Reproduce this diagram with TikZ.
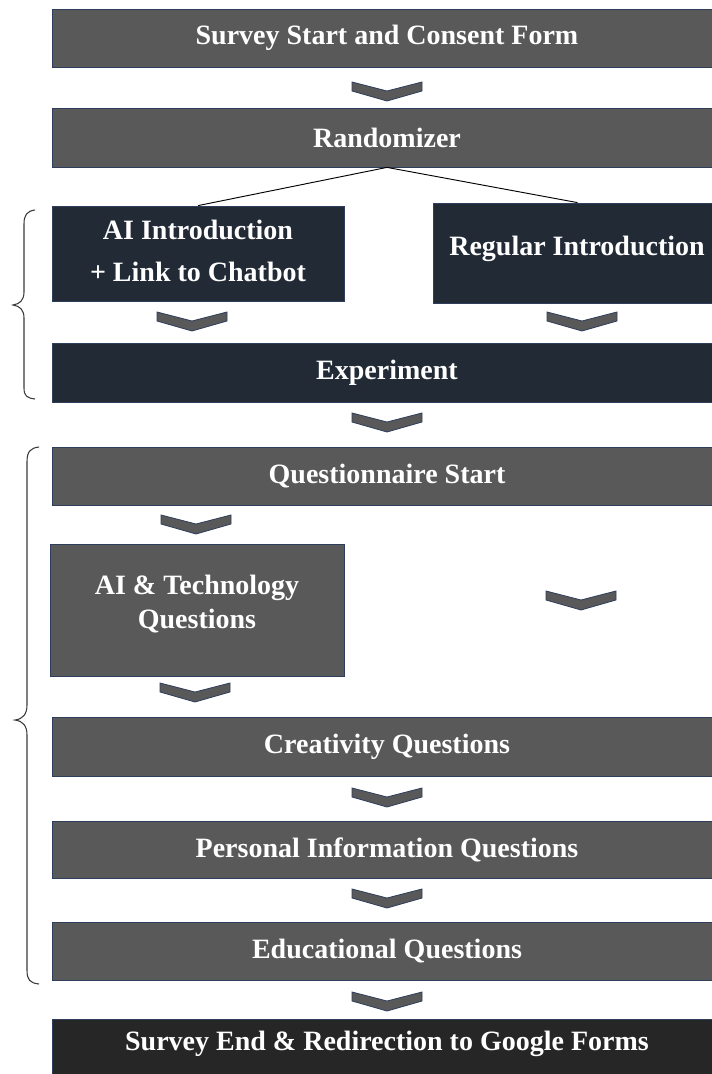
\documentclass[tikz,border=0pt]{standalone}
\usepackage{fontspec}
\setmainfont{Liberation Serif}
\definecolor{boxgray}{HTML}{595959}
\definecolor{navy}{HTML}{222A35}
\definecolor{endblack}{HTML}{262626}
\definecolor{edge}{HTML}{2F3E5C}
\definecolor{bracecol}{HTML}{3A3A3A}
\begin{document}
\begin{tikzpicture}[x=0.75pt,y=-0.75pt,
  stage/.style={draw=edge, line width=0.6pt, fill=boxgray, text=white,
    font=\bfseries\fontsize{21}{25}\selectfont, inner sep=0pt, align=center},
  darkstage/.style={stage, fill=navy},
  endstage/.style={stage, fill=endblack},
  lbl/.style={text=white, font=\bfseries\fontsize{21}{25}\selectfont, inner sep=0pt, align=center},
  chevshape/.style={draw=edge, line width=0.6pt, fill=boxgray, line join=miter},
  chev/.pic={\path[chevshape] (-35,0) -- (0,9) -- (35,0) -- (35,9) -- (0,19) -- (-35,9) -- cycle;},
  bracket/.style={draw=bracecol, line width=0.8pt},
  split/.style={draw=black, line width=0.7pt}
]
\fill[white] (0,0) rectangle (712,1074);
\useasboundingbox (0,0) rectangle (712,1074);

% stages of the survey, top to bottom
\node[stage, minimum width=502.5pt, minimum height=43.5pt] (start) at (387,38) {Survey Start and Consent Form};
\node[stage, minimum width=502.5pt, minimum height=44.25pt] (rand) at (387,137.5) {Randomizer};
\node[darkstage, minimum width=219pt, minimum height=71.25pt] (aiintro) at (198,253.5) {};
\node[lbl] (aiintrotxt) at (198,251) {AI Introduction\\[7pt]+ Link to Chatbot};
\node[darkstage, minimum width=216.75pt, minimum height=75pt] (regintro) at (577.5,253) {};
\node[lbl] (regintrotxt) at (577,249) {Regular Introduction};
\node[darkstage, minimum width=502.5pt, minimum height=44.25pt] (exper) at (387,372.5) {Experiment};
\node[stage, minimum width=502.5pt, minimum height=43.5pt] (qstart) at (387,476) {Questionnaire Start};
\node[stage, minimum width=220.5pt, minimum height=99pt] (aitech) at (197,610) {};
\node[lbl] (aitechtxt) at (197,604) {AI \& Technology\\Questions};
\node[stage, minimum width=502.5pt, minimum height=44.25pt] (creat) at (387,746.5) {Creativity Questions};
\node[stage, minimum width=502.5pt, minimum height=42.75pt] (pers) at (387,849.5) {Personal Information Questions};
\node[stage, minimum width=502.5pt, minimum height=43.5pt] (edu) at (387,951) {Educational Questions};
\node[endstage, minimum width=502.5pt, minimum height=45.75pt] (send) at (387,1049.5) {};
\node[lbl] (sendtxt) at (387,1044) {Survey End \& Redirection to Google Forms};

% randomizer split into the two introductions
\draw[split] (rand.south) -- (aiintro.north);
\draw[split] (rand.south) -- (regintro.north);

% chevron arrows between stages
\pic at (387,82) {chev};
\pic at (192,312) {chev};
\pic at (582,312) {chev};
\pic at (387,413) {chev};
\pic at (196,515) {chev};
\pic at (581,591) {chev};
\pic at (195,683) {chev};
\pic at (387,788) {chev};
\pic at (387,889) {chev};
\pic at (387,992) {chev};

% braces grouping the experiment and the questionnaire
\draw[bracket] (35,210) .. controls (27,211) and (24,215) .. (24,224) -- (24,292)
  .. controls (24,300) and (20,304) .. (13,305)
  .. controls (20,306) and (24,310) .. (24,318) -- (24,388)
  .. controls (24,396) and (27,398) .. (35,399);
\draw[bracket] (39,447) .. controls (30,448) and (27,452) .. (27,462) -- (27,705)
  .. controls (27,714) and (23,719) .. (15,720)
  .. controls (23,721) and (27,726) .. (27,735) -- (27,970)
  .. controls (27,980) and (30,983) .. (39,984);
\end{tikzpicture}
\end{document}
